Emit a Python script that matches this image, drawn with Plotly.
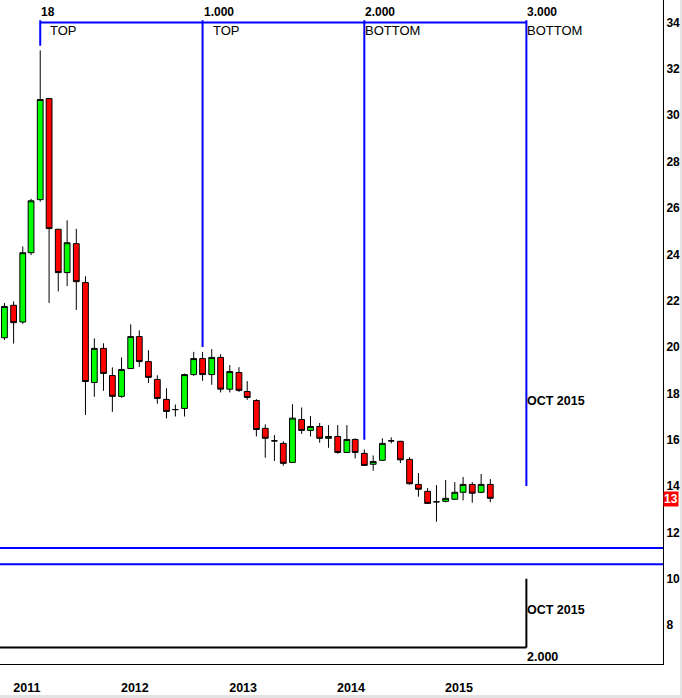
import plotly.graph_objects as go

# ---- data (monthly candles, Dec 2010 .. Jun 2015) ----
months = [
    "2010-12-01", "2011-01-01", "2011-02-01", "2011-03-01", "2011-04-01", "2011-05-01",
    "2011-06-01", "2011-07-01", "2011-08-01", "2011-09-01", "2011-10-01", "2011-11-01",
    "2011-12-01", "2012-01-01", "2012-02-01", "2012-03-01", "2012-04-01", "2012-05-01",
    "2012-06-01", "2012-07-01", "2012-08-01", "2012-09-01", "2012-10-01", "2012-11-01",
    "2012-12-01", "2013-01-01", "2013-02-01", "2013-03-01", "2013-04-01", "2013-05-01",
    "2013-06-01", "2013-07-01", "2013-08-01", "2013-09-01", "2013-10-01", "2013-11-01",
    "2013-12-01", "2014-01-01", "2014-02-01", "2014-03-01", "2014-04-01", "2014-05-01",
    "2014-06-01", "2014-07-01", "2014-08-01", "2014-09-01", "2014-10-01", "2014-11-01",
    "2014-12-01", "2015-01-01", "2015-02-01", "2015-03-01", "2015-04-01", "2015-05-01",
    "2015-06-01",
]
opens = [20.40, 21.80, 21.08, 24.07, 26.36, 30.72, 25.08, 23.21, 24.46, 22.78, 18.47, 19.94,
         18.77, 17.87, 19.07, 20.45, 19.37, 18.60, 17.74, 17.30, 17.35, 18.81, 19.50, 18.81,
         19.55, 18.18, 18.90, 18.08, 17.69, 16.49, 15.95, 15.84, 15.02, 16.87, 16.40, 16.57,
         16.06, 16.14, 15.45, 16.01, 15.41, 14.94, 15.11, 15.95, 15.93, 15.15, 14.07, 13.77,
         13.32, 13.34, 13.43, 13.73, 14.07, 13.73, 14.07]
highs = [21.90, 21.97, 24.34, 26.40, 32.80, 30.75, 25.10, 25.47, 25.10, 23.05, 20.37, 20.16,
         19.12, 19.55, 20.98, 20.72, 19.86, 18.78, 18.22, 17.52, 18.85, 19.79, 19.79, 19.91,
         19.69, 19.22, 19.13, 18.53, 17.75, 16.66, 16.20, 15.93, 17.53, 17.39, 17.02, 16.72,
         16.63, 16.63, 16.63, 16.06, 15.58, 15.32, 16.06, 16.10, 15.95, 15.24, 14.56, 13.91,
         14.04, 14.26, 14.17, 14.39, 14.17, 14.52, 14.30]
lows = [20.30, 20.15, 21.00, 23.97, 26.27, 21.90, 22.40, 22.63, 21.60, 17.07, 17.85, 18.11,
        17.20, 17.81, 19.05, 19.14, 18.45, 17.55, 16.92, 17.00, 17.00, 18.75, 18.54, 18.37,
        18.04, 18.04, 18.06, 17.72, 16.14, 15.22, 15.08, 14.88, 15.00, 16.25, 16.14, 15.87,
        15.65, 15.39, 15.43, 15.19, 14.88, 14.66, 15.10, 15.84, 14.99, 14.06, 13.54, 13.23,
        12.46, 13.30, 13.40, 13.38, 13.28, 13.69, 13.30]
closes = [21.75, 21.05, 24.07, 26.31, 30.68, 25.11, 23.21, 24.50, 22.82, 18.51, 19.94, 18.86,
          17.87, 19.03, 20.45, 19.37, 18.69, 17.78, 17.22, 17.30, 18.81, 19.50, 18.81, 19.55,
          18.18, 18.94, 18.13, 17.82, 16.44, 16.06, 15.95, 14.98, 16.93, 16.40, 16.57, 16.06,
          16.14, 15.45, 16.01, 15.45, 14.89, 15.06, 15.84, 15.95, 15.13, 14.10, 13.86, 13.25,
          13.32, 13.47, 13.73, 14.07, 13.69, 14.07, 13.47]

# cycle (time) lines
cycle_dates = ["2011-04-01", "2012-10-01", "2014-04-01", "2015-10-01"]
cycle_numbers = ["18", "1.000", "2.000", "3.000"]
cycle_tags = ["TOP", "TOP", "BOTTOM", "BOTTOM"]
cycle_bottoms = [33.0, 20.0, 16.0, 14.0]
cycle_top = 34.0

# horizontal levels
blue_levels = [11.33, 10.63]
lower_level = 7.03
lower_top = 10.0
projection_label = "OCT 2015"
lower_number = "2.000"

year_labels = ["2011", "2012", "2013", "2014", "2015"]
y_ticks = list(range(8, 35, 2))

x_range = ["2010-11-16", "2017-01-05"]
y_range = [6.32, 34.975]

BLUE = "#0000FF"
FONT = "Liberation Sans, Arial, sans-serif"

fig = go.Figure()
fig.add_trace(go.Candlestick(
    x=months, open=opens, high=highs, low=lows, close=closes,
    increasing=dict(fillcolor="#00FF00", line=dict(color="black", width=1)),
    decreasing=dict(fillcolor="#FF0000", line=dict(color="black", width=1)),
    whiskerwidth=0, showlegend=False, hoverinfo="skip",
))

shapes = []
for d, b in zip(cycle_dates, cycle_bottoms):
    shapes.append(dict(type="line", xref="x", yref="y", x0=d, x1=d, y0=b, y1=cycle_top + 0.1,
                       line=dict(color=BLUE, width=2)))
shapes.append(dict(type="line", xref="x", yref="y", x0=cycle_dates[0], x1=cycle_dates[-1],
                   y0=cycle_top, y1=cycle_top, line=dict(color=BLUE, width=2)))
for lv in blue_levels:
    shapes.append(dict(type="line", xref="paper", yref="y", x0=0, x1=1, y0=lv, y1=lv,
                       line=dict(color=BLUE, width=2)))
shapes.append(dict(type="line", xref="x", yref="y", x0=x_range[0], x1=cycle_dates[-1],
                   y0=lower_level, y1=lower_level, line=dict(color="black", width=2)))
shapes.append(dict(type="line", xref="x", yref="y", x0=cycle_dates[-1], x1=cycle_dates[-1],
                   y0=lower_level, y1=lower_top, line=dict(color="black", width=2)))
# light page frame (right / bottom)
shapes.append(dict(type="line", xref="paper", yref="paper", x0=-0.01, x1=1.03,
                   y0=-0.049, y1=-0.049, line=dict(color="#E3E3E3", width=3)))
shapes.append(dict(type="line", xref="paper", yref="paper", x0=1.0271, x1=1.0271,
                   y0=-0.05, y1=1.0, line=dict(color="#E3E3E3", width=2)))

annotations = []
tag_shift = [9, 9, 0, 0]
for d, n, t, s in zip(cycle_dates, cycle_numbers, cycle_tags, tag_shift):
    annotations.append(dict(x=d, y=34.47, xref="x", yref="y", text=n, showarrow=False,
                            xanchor="left", yanchor="middle", xshift=-1,
                            font=dict(family=FONT, size=12, color="black", weight="bold")))
    annotations.append(dict(x=d, y=33.64, xref="x", yref="y", text=t, showarrow=False,
                            xanchor="left", yanchor="middle", xshift=s - 1,
                            font=dict(family=FONT, size=13, color="black")))
for yv in (17.67, 8.65):
    annotations.append(dict(x=cycle_dates[-1], y=yv, xref="x", yref="y", text=projection_label,
                            showarrow=False, xanchor="left", yanchor="middle", xshift=-1,
                            font=dict(family=FONT, size=12.5, color="black", weight="bold")))
annotations.append(dict(x=cycle_dates[-1], y=6.62, xref="x", yref="y", text=lower_number,
                        showarrow=False, xanchor="left", yanchor="middle", xshift=-1,
                        font=dict(family=FONT, size=12.5, color="black", weight="bold")))
# last price marker
annotations.append(dict(x=1, y=closes[-1], xref="paper", yref="y", text=str(int(closes[-1])),
                        showarrow=False, xanchor="left", yanchor="middle", xshift=0, yshift=-1,
                        bgcolor="#FF0000", borderpad=0,
                        font=dict(family=FONT, size=12, color="white", weight="bold")))

fig.update_layout(
    width=682, height=698,
    margin=dict(l=0, r=19, t=0, b=34),
    paper_bgcolor="white", plot_bgcolor="white",
    boxgap=0.3, boxgroupgap=0,
    shapes=shapes, annotations=annotations,
    xaxis=dict(type="date", range=x_range, rangeslider=dict(visible=False),
               showgrid=False, zeroline=False, showline=True, linecolor="black", linewidth=1,
               ticks="", tickvals=[f"{y}-02-15" for y in year_labels], ticktext=year_labels,
               ticklabelstandoff=12,
               tickfont=dict(family=FONT, size=12.5, color="black", weight="bold")),
    yaxis=dict(side="right", range=y_range, showgrid=False, zeroline=False, showline=True,
               linecolor="black", linewidth=1, ticks="", tickvals=y_ticks,
               tickfont=dict(family=FONT, size=12, color="black", weight="bold")),
)

fig.write_html("out.html", config={"displayModeBar": False},
               post_script="document.body.style.margin='0';document.body.style.overflow='hidden';")
